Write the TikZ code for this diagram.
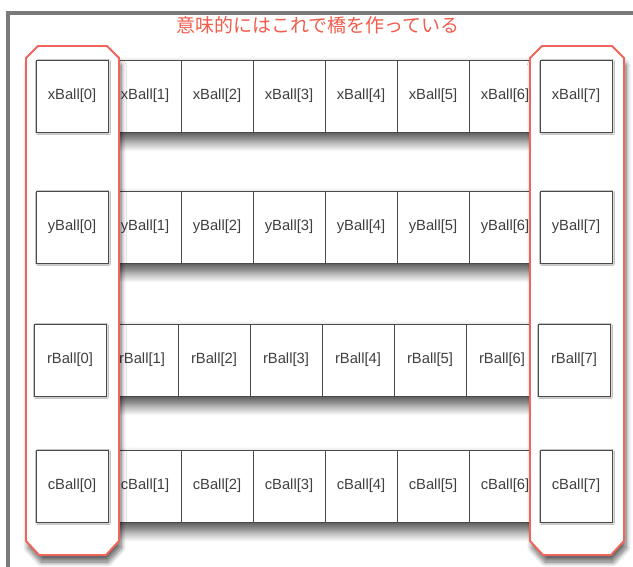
\documentclass[tikz,border=0pt]{standalone}
\usepackage{fontspec}
\setmainfont{Liberation Sans}
\newfontfamily\jpfont{Noto Sans CJK JP}
\usepackage{xcolor}
\usepackage{tikz}
\usetikzlibrary{shadows.blur}

\definecolor{pillarred}{HTML}{F0655A}
\definecolor{titlered}{HTML}{F25C4C}
\definecolor{cellline}{HTML}{4A4A4A}
\definecolor{celltext}{HTML}{404040}
\definecolor{framegray}{HTML}{7A7A7A}

\begin{document}
\begin{tikzpicture}[
    x=0.025cm, y=-0.025cm,
    cell/.style={draw=cellline, fill=white, minimum width=1.8cm, minimum height=1.8cm,
                 inner sep=0pt, font=\fontsize{10.5}{12}\selectfont, text=celltext, line width=0.6pt},
    rowshadow/.style={fill=white, blur shadow={shadow xshift=0pt, shadow yshift=-6pt,
                      shadow blur radius=8pt, shadow blur steps=16, shadow opacity=75}},
    endcell/.style={cell, blur shadow={shadow xshift=0.8pt, shadow yshift=-0.8pt,
                    shadow blur radius=1pt, shadow opacity=30}},
    pillar/.style={draw=pillarred, fill=white, line width=1.4pt,
                   blur shadow={shadow xshift=1.5pt, shadow yshift=-5pt,
                   shadow blur radius=3.5pt, shadow blur steps=10, shadow opacity=60}},
    frame/.style={draw=framegray, line width=2.2pt},
    title/.style={font=\jpfont\fontsize{13.5}{16}\selectfont, text=titlered},
]
\useasboundingbox (0,0) rectangle (633,567);

% ── Window frame ──
\draw[frame] (8,567) -- (8,13) -- (633,13);

% ── Title ──
\node[title] (title) at (318,25) {意味的にはこれで橋を作っている};

% ── Rows: shadow band, then inner cells 1..6 ──
\foreach \r/\yy/\dx in {x/96/0, y/227/0, r/360/-3, c/486/0}{
  \fill[rowshadow] ({109+\dx},{\yy-36}) rectangle ({541+\dx},{\yy+36});
  \foreach \k in {1,...,6}{
    \node[cell] (\r\k) at ({145+72*(\k-1)+\dx},\yy) {\r Ball[\k]};
  }
}

% ── Pillars ──
\draw[pillar] (26,58) -- (38,46) -- (107,46) -- (119,58) -- (119,541)
              -- (106,555) -- (39,555) -- (26,541) -- cycle;
\draw[pillar] (530,58) -- (542,46) -- (612,46) -- (624,58) -- (624,541)
              -- (611,555) -- (543,555) -- (530,541) -- cycle;

% ── End cells 0 and 7 ──
\foreach \r/\yy/\dx in {x/96/0, y/227/0, r/360/-2, c/486/0}{
  \node[endcell] (\r0) at ({72+\dx},\yy) {\r Ball[0]};
  \node[endcell] (\r7) at ({576+\dx},\yy) {\r Ball[7]};
}

\end{tikzpicture}
\end{document}
